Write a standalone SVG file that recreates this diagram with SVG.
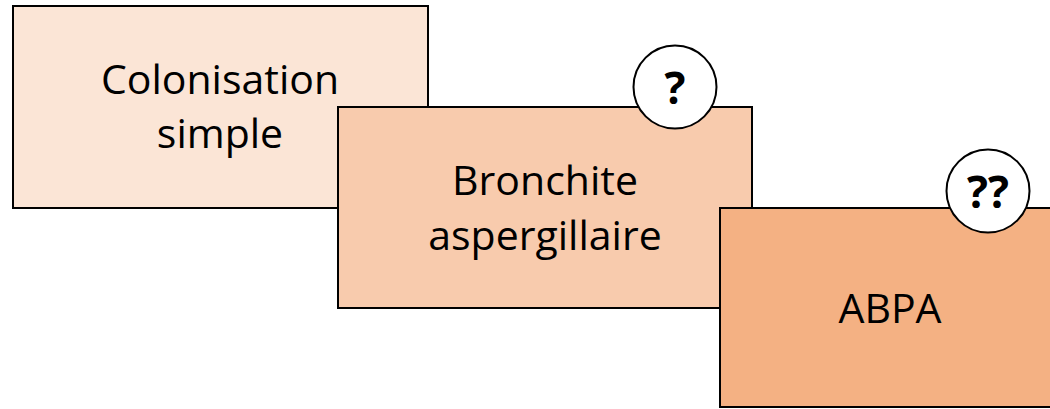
<svg xmlns="http://www.w3.org/2000/svg" width="1050" height="409" viewBox="0 0 1050 409">
<style>
.box{stroke:#000;stroke-width:2}
.lbl{font-family:"Open Sans","Liberation Sans",sans-serif;font-size:41px;fill:#000;text-anchor:middle}
.badge{fill:#fff;stroke:#000;stroke-width:2}
.q{font-family:"Open Sans","Liberation Sans",sans-serif;font-size:44px;font-weight:bold;fill:#000;text-anchor:middle}
</style>
<rect width="1050" height="409" fill="#fff"/>
<g id="colonisation">
<rect class="box" x="13" y="6" width="415" height="202" fill="#FBE5D6"/>
<text class="lbl" x="220" y="94">Colonisation</text>
<text class="lbl" x="220" y="148">simple</text>
</g>
<g id="bronchite">
<rect class="box" x="338" y="107" width="414" height="201" fill="#F8CBAD"/>
<text class="lbl" x="545" y="195">Bronchite</text>
<text class="lbl" x="545" y="250">aspergillaire</text>
</g>
<g id="badge1">
<circle class="badge" cx="675" cy="87" r="41.5"/>
<text class="q" x="675" y="104">?</text>
</g>
<g id="abpa">
<rect class="box" x="720" y="208" width="415" height="199" fill="#F4B183"/>
<text class="lbl" x="890" y="323">ABPA</text>
</g>
<g id="badge2">
<circle class="badge" cx="988" cy="191" r="41.5"/>
<text class="q" x="988" y="208">??</text>
</g>
<g id="connectors"></g>
</svg>
